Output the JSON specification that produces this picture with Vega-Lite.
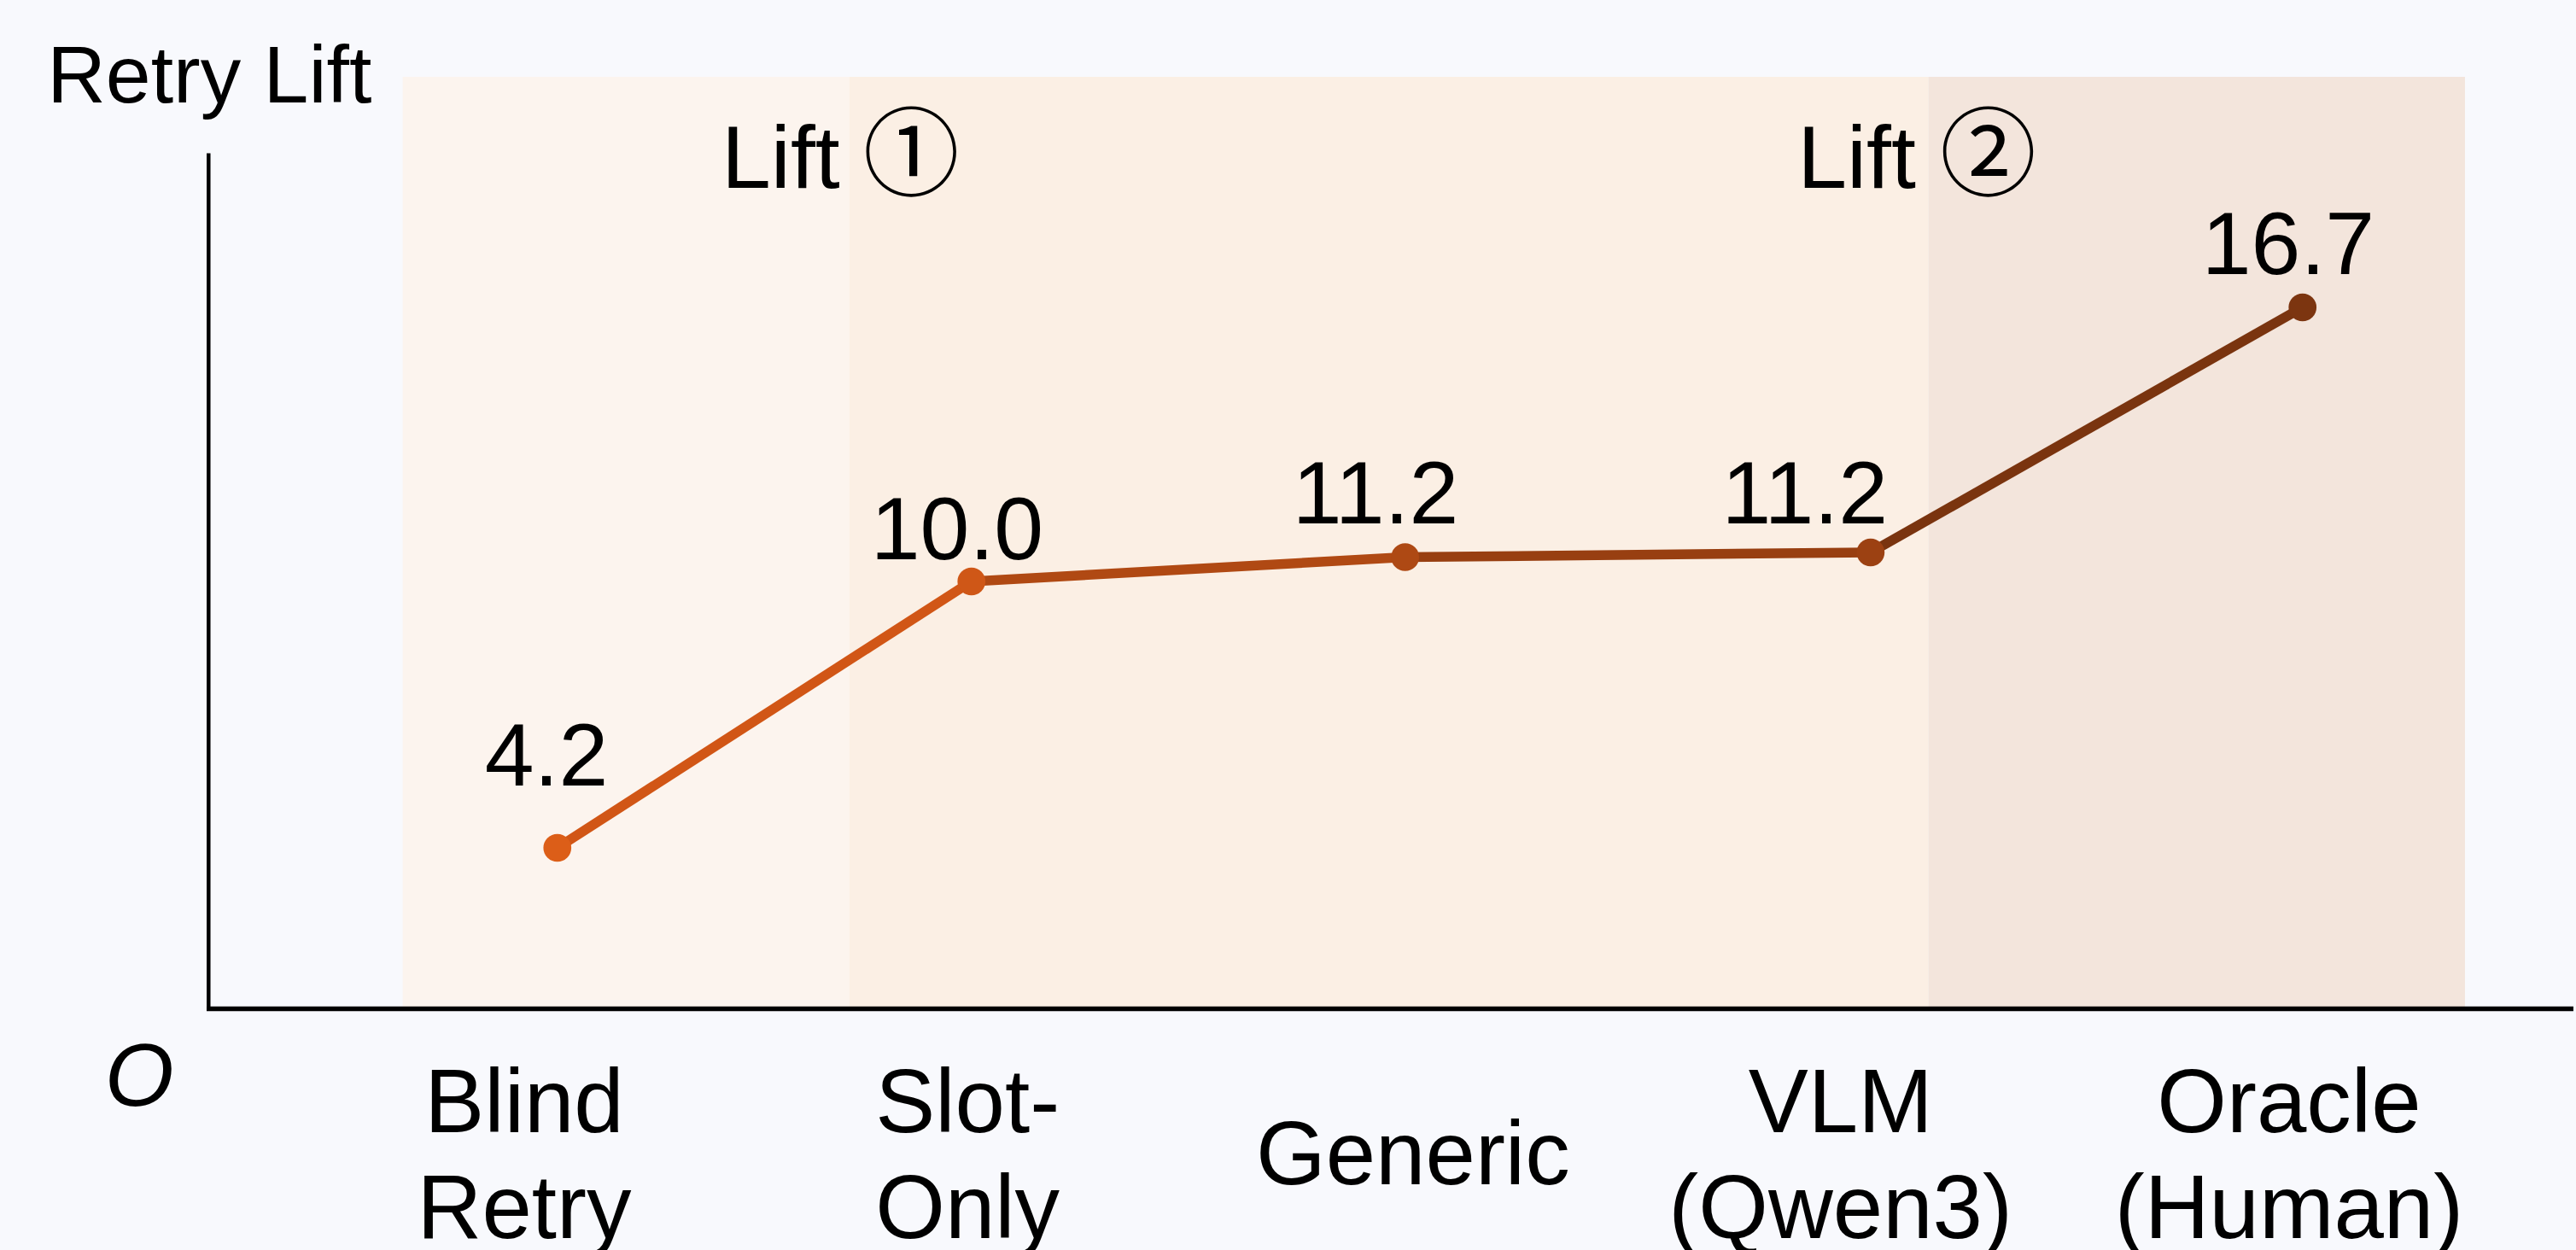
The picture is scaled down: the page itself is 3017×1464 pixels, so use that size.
{
  "$schema": "https://vega.github.io/schema/vega-lite/v6.json",
  "width": 3017,
  "height": 1464,
  "autosize": {"type": "none"},
  "padding": 0,
  "background": "#F8F9FD",
  "config": {"view": {"stroke": null}, "font": "Liberation Sans"},
  "datasets": {
    "bands": [
      {"band": "Baseline", "x0": 0.645, "x1": 1.671, "top": 21.83},
      {"band": "Lift 1", "x0": 1.671, "x1": 4.149, "top": 21.83},
      {"band": "Lift 2", "x0": 4.149, "x1": 5.381, "top": 21.83}
    ],
    "axes": [
      {"axis": "y", "x0": 0.199, "x1": 0.199, "y0": -0.05, "y1": 20.04},
      {"axis": "x", "x0": 0.1945, "x1": 5.63, "y0": 0, "y1": 0}
    ],
    "methods": [
      {"method": "Blind Retry", "tick": "Blind\nRetry", "lift": 4.2, "x": 1.0, "y": 3.77, "lx": 0.975, "ly": 5.23, "cx": 0.924, "cy": -2.89},
      {"method": "Slot-Only", "tick": "Slot-\nOnly", "lift": 10.0, "x": 1.951, "y": 10.01, "lx": 1.918, "ly": 10.53, "cx": 1.942, "cy": -2.89},
      {"method": "Generic", "tick": "Generic", "lift": 11.2, "x": 2.947, "y": 10.58, "lx": 2.879, "ly": 11.37, "cx": 2.965, "cy": -4.11},
      {"method": "VLM (Qwen3)", "tick": "VLM\n(Qwen3)", "lift": 11.2, "x": 4.016, "y": 10.69, "lx": 3.865, "ly": 11.37, "cx": 3.947, "cy": -2.89},
      {"method": "Oracle (Human)", "tick": "Oracle\n(Human)", "lift": 16.7, "x": 5.008, "y": 16.43, "lx": 4.975, "ly": 17.22, "cx": 4.977, "cy": -2.89}
    ],
    "lifts": [
      {"word": "Lift", "sym": "①", "xw": 1.377, "xs": 1.813, "y": 19.23},
      {"word": "Lift", "sym": "②", "xw": 3.848, "xs": 4.286, "y": 19.23}
    ],
    "titles": [
      {"t": "Retry Lift", "x": 0.201, "y": 21.24}
    ],
    "origin": [
      {"t": "O", "x": 0.04, "y": -2.27}
    ]
  },
  "resolve": {"scale": {"color": "independent"}},
  "layer": [
    {
      "data": {"name": "bands"},
      "mark": {"type": "rect"},
      "encoding": {
        "x": {"field": "x0", "type": "quantitative", "scale": {"domain": [-0.28, 5.636], "nice": false, "zero": false}, "axis": null},
        "x2": {"field": "x1"},
        "y": {"field": "top", "type": "quantitative", "scale": {"domain": [-5.65, 23.63], "nice": false, "zero": false}, "axis": null},
        "y2": {"datum": 0},
        "color": {"field": "band", "type": "nominal", "scale": {"domain": ["Baseline", "Lift 1", "Lift 2"], "range": ["#FCF4EE", "#FBEFE4", "#F3E5DC"]}, "legend": null}
      }
    },
    {
      "data": {"name": "axes"},
      "transform": [{"filter": "datum.axis == 'y'"}],
      "mark": {"type": "rule", "color": "#000000", "strokeWidth": 4.5},
      "encoding": {
        "x": {"field": "x0", "type": "quantitative", "scale": {"domain": [-0.28, 5.636], "nice": false, "zero": false}, "axis": null},
        "y": {"field": "y0", "type": "quantitative", "scale": {"domain": [-5.65, 23.63], "nice": false, "zero": false}, "axis": null},
        "y2": {"field": "y1"}
      }
    },
    {
      "data": {"name": "axes"},
      "transform": [{"filter": "datum.axis == 'x'"}],
      "mark": {"type": "rule", "color": "#000000", "strokeWidth": 5.5},
      "encoding": {
        "x": {"field": "x0", "type": "quantitative", "scale": {"domain": [-0.28, 5.636], "nice": false, "zero": false}, "axis": null},
        "x2": {"field": "x1"},
        "y": {"field": "y0", "type": "quantitative", "scale": {"domain": [-5.65, 23.63], "nice": false, "zero": false}, "axis": null}
      }
    },
    {
      "data": {"name": "methods"},
      "transform": [
        {"window": [{"op": "lead", "field": "x", "as": "nx"}, {"op": "lead", "field": "y", "as": "ny"}], "sort": [{"field": "x"}]},
        {"filter": "datum.nx != null"}
      ],
      "mark": {"type": "rule", "strokeWidth": 11.5},
      "encoding": {
        "x": {"field": "x", "type": "quantitative", "scale": {"domain": [-0.28, 5.636], "nice": false, "zero": false}, "axis": null},
        "y": {"field": "y", "type": "quantitative", "scale": {"domain": [-5.65, 23.63], "nice": false, "zero": false}, "axis": null},
        "x2": {"field": "nx"},
        "y2": {"field": "ny"},
        "color": {"field": "method", "type": "nominal", "scale": {"domain": ["Blind Retry", "Slot-Only", "Generic", "VLM (Qwen3)"], "range": ["#D15616", "#B04913", "#983F11", "#7A340F"]}, "legend": null}
      }
    },
    {
      "data": {"name": "methods"},
      "mark": {"type": "point", "filled": true, "shape": "circle", "size": 1070, "opacity": 1},
      "encoding": {
        "x": {"field": "x", "type": "quantitative", "scale": {"domain": [-0.28, 5.636], "nice": false, "zero": false}, "axis": null},
        "y": {"field": "y", "type": "quantitative", "scale": {"domain": [-5.65, 23.63], "nice": false, "zero": false}, "axis": null},
        "color": {"field": "method", "type": "nominal", "scale": {"domain": ["Blind Retry", "Slot-Only", "Generic", "VLM (Qwen3)", "Oracle (Human)"], "range": ["#DC5E18", "#CF5717", "#AE4914", "#9C4112", "#7C3510"]}, "legend": null}
      }
    },
    {
      "data": {"name": "methods"},
      "mark": {"type": "text", "fontSize": 104, "align": "center", "baseline": "alphabetic", "color": "#000000"},
      "encoding": {
        "x": {"field": "lx", "type": "quantitative", "scale": {"domain": [-0.28, 5.636], "nice": false, "zero": false}, "axis": null},
        "y": {"field": "ly", "type": "quantitative", "scale": {"domain": [-5.65, 23.63], "nice": false, "zero": false}, "axis": null},
        "text": {"field": "lift", "type": "quantitative", "format": ".1f"}
      }
    },
    {
      "data": {"name": "methods"},
      "mark": {"type": "text", "fontSize": 105, "lineHeight": 124, "lineBreak": "\n", "align": "center", "baseline": "alphabetic", "color": "#000000"},
      "encoding": {
        "x": {"field": "cx", "type": "quantitative", "scale": {"domain": [-0.28, 5.636], "nice": false, "zero": false}, "axis": null},
        "y": {"field": "cy", "type": "quantitative", "scale": {"domain": [-5.65, 23.63], "nice": false, "zero": false}, "axis": null},
        "text": {"field": "tick", "type": "nominal"}
      }
    },
    {
      "data": {"name": "lifts"},
      "mark": {"type": "text", "fontSize": 104, "align": "left", "baseline": "alphabetic", "color": "#000000"},
      "encoding": {
        "x": {"field": "xw", "type": "quantitative", "scale": {"domain": [-0.28, 5.636], "nice": false, "zero": false}, "axis": null},
        "y": {"field": "y", "type": "quantitative", "scale": {"domain": [-5.65, 23.63], "nice": false, "zero": false}, "axis": null},
        "text": {"field": "word", "type": "nominal"}
      }
    },
    {
      "data": {"name": "lifts"},
      "mark": {"type": "text", "fontSize": 113, "font": "Noto Sans CJK JP", "align": "center", "baseline": "alphabetic", "color": "#000000"},
      "encoding": {
        "x": {"field": "xs", "type": "quantitative", "scale": {"domain": [-0.28, 5.636], "nice": false, "zero": false}, "axis": null},
        "y": {"field": "y", "type": "quantitative", "scale": {"domain": [-5.65, 23.63], "nice": false, "zero": false}, "axis": null},
        "text": {"field": "sym", "type": "nominal"}
      }
    },
    {
      "data": {"name": "titles"},
      "mark": {"type": "text", "fontSize": 95, "align": "center", "baseline": "alphabetic", "color": "#000000"},
      "encoding": {
        "x": {"field": "x", "type": "quantitative", "scale": {"domain": [-0.28, 5.636], "nice": false, "zero": false}, "axis": null},
        "y": {"field": "y", "type": "quantitative", "scale": {"domain": [-5.65, 23.63], "nice": false, "zero": false}, "axis": null},
        "text": {"field": "t", "type": "nominal"}
      }
    },
    {
      "data": {"name": "origin"},
      "mark": {"type": "text", "fontSize": 104, "fontStyle": "italic", "align": "center", "baseline": "alphabetic", "color": "#000000"},
      "encoding": {
        "x": {"field": "x", "type": "quantitative", "scale": {"domain": [-0.28, 5.636], "nice": false, "zero": false}, "axis": null},
        "y": {"field": "y", "type": "quantitative", "scale": {"domain": [-5.65, 23.63], "nice": false, "zero": false}, "axis": null},
        "text": {"field": "t", "type": "nominal"}
      }
    }
  ]
}
